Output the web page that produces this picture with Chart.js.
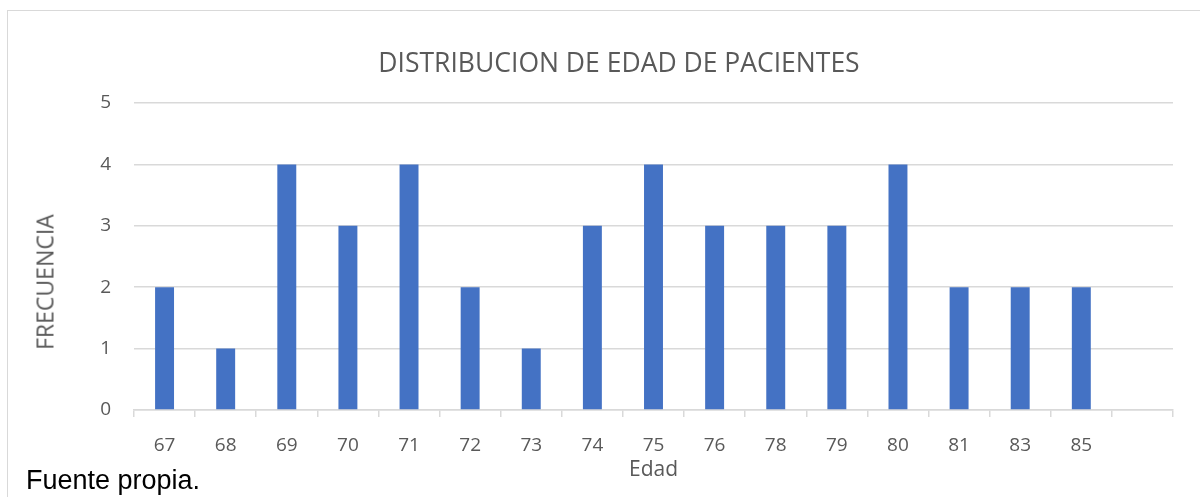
<!DOCTYPE html>
<html>
<head>
<meta charset="utf-8">
<script src="https://cdn.jsdelivr.net/npm/chart.js@4/dist/chart.umd.min.js"></script>
<style>
  html, body { margin: 0; padding: 0; background: #fff; overflow: hidden; }
  #wrap { position: relative; width: 1200px; height: 497px; }
  #frame { position: absolute; left: 7px; top: 10px; width: 1300px; height: 600px; border: 1.5px solid #d9d9d9; }
  canvas { position: absolute; left: 0; top: 0; }
  .txt { position: absolute; font-family: "Open Sans", "Noto Sans", sans-serif; color: #595959; white-space: nowrap; }
  #title { left: 0; width: 1238px; top: 47px; line-height: 30px; font-size: 26.5px; text-align: center; }
  #ytitle { left: 45px; top: 282px; width: 0; height: 0; }
  #ytitle span { position: absolute; left: 0; top: 0; font-size: 23px; line-height: 1; transform: translate(-50%, -50%) rotate(-90deg); }
  #source { position: absolute; left: 26px; top: 465px; font-family: "Liberation Sans", Arial, sans-serif; font-size: 27px; color: #000; }
</style>
</head>
<body>
<div id="wrap">
  <div id="frame"></div>
  <canvas id="chart" width="1200" height="497"></canvas>
  <div id="title" class="txt">DISTRIBUCION DE EDAD DE PACIENTES</div>
  <div id="ytitle" class="txt"><span>FRECUENCIA</span></div>
  <div id="source">Fuente propia.</div>
</div>
<script>
// edades (la última categoría queda vacía, como en el original)
const edades = ["67", "68", "69", "70", "71", "72", "73", "74", "75", "76", "78", "79", "80", "81", "83", "85", ""];
const frecuencia = [2, 1, 4, 3, 4, 2, 1, 3, 4, 3, 3, 3, 4, 2, 2, 2, null];
const yTicks = [0, 1, 2, 3, 4, 5];

const gris = "#595959";
const linea = "#d9d9d9";
const fuente = "'Open Sans', 'Noto Sans', sans-serif";

const ctx = document.getElementById("chart").getContext("2d");
new Chart(ctx, {
  type: "bar",
  data: {
    labels: edades,
    datasets: [
      {
        label: "Frecuencia",
        data: frecuencia,
        backgroundColor: "#4472c4",
        barPercentage: 0.31,
        categoryPercentage: 1,
      },
    ],
  },
  options: {
    responsive: false,
    animation: false,
    layout: { padding: { left: 0, right: 27, top: 103, bottom: 0 } },
    plugins: {
      legend: { display: false },
      tooltip: { enabled: false },
    },
    scales: {
      x: {
        grid: { drawOnChartArea: false, drawTicks: true, tickLength: 7, color: linea, lineWidth: 1.5 },
        border: { display: true, color: linea, width: 1.5 },
        ticks: { color: gris, font: { family: fuente, size: 19 }, padding: 17, maxRotation: 0 },
        title: {
          display: true,
          text: "Edad",
          color: gris,
          font: { family: fuente, size: 21 },
          padding: { top: 0, bottom: 14 },
        },
        afterFit: (scale) => { scale.height = 87; },
      },
      y: {
        min: 0,
        max: 5,
        afterBuildTicks: (scale) => { scale.ticks = yTicks.map((v) => ({ value: v })); },
        grid: { drawTicks: false, color: linea, lineWidth: 1.5 },
        border: { display: false },
        ticks: { color: gris, font: { family: fuente, size: 19 }, padding: 23 },
        afterFit: (scale) => { scale.width = 134; },
      },
    },
  },
});
</script>
</body>
</html>
